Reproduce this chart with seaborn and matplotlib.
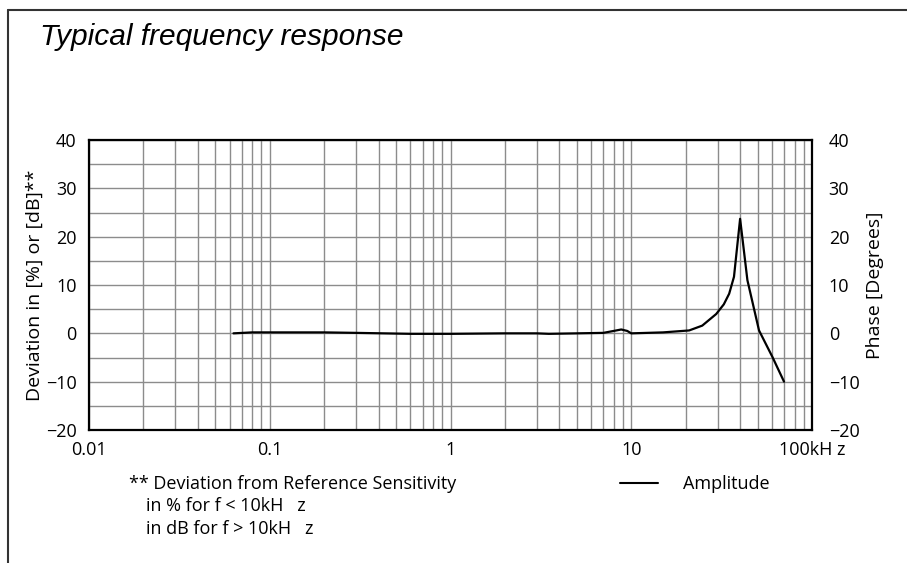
import pandas as pd
import numpy as np
import matplotlib
matplotlib.use("Agg")
import matplotlib.pyplot as plt
import seaborn as sns
from matplotlib.lines import Line2D
from matplotlib.ticker import LogLocator, FixedLocator, NullFormatter

# data (frequency in kHz, deviation)
freq_khz = [0.063, 0.08, 0.2, 0.3, 0.6, 1.0, 2.0, 3.0, 3.5, 5.0, 7.0, 8.0, 8.8, 9.5,
            10.0, 15.0, 20.9, 24.7, 29.5, 32.5, 34.8, 37.0, 40.0, 43.9, 50.9, 60.4, 70.0]
amplitude = [0.0, 0.2, 0.2, 0.1, -0.1, -0.1, 0.0, 0.0, -0.1, 0.0, 0.1, 0.5, 0.8, 0.5,
             0.0, 0.2, 0.6, 1.6, 4.0, 6.0, 8.2, 11.7, 23.7, 11.0, 0.6, -4.9, -10.0]

x_ticks = [0.01, 0.1, 1, 10, 100]
x_labels = ["0.01", "0.1", "1", "10", "100kH z"]
y_ticks = [-20, -10, 0, 10, 20, 30, 40]

df = pd.DataFrame({"f": freq_khz, "Amplitude": amplitude})

sns.set_style("white")
plt.rcParams["font.family"] = ["Open Sans", "DejaVu Sans"]
plt.rcParams["text.color"] = "black"
plt.rcParams["xtick.color"] = "black"
plt.rcParams["ytick.color"] = "black"
plt.rcParams["axes.labelcolor"] = "black"

fig = plt.figure(figsize=(9.07, 5.63), dpi=100)
ax = fig.add_axes([0.0981, 0.2362, 0.7972, 0.5151])

sns.lineplot(data=df, x="f", y="Amplitude", ax=ax, color="black", linewidth=1.6,
             legend=False)
ax.set_xscale("log")
ax.set_xlim(0.01, 100)
ax.set_ylim(-20, 40)

ax.xaxis.set_major_locator(FixedLocator(x_ticks))
ax.xaxis.set_minor_locator(LogLocator(base=10, subs=np.arange(2, 10)))
ax.xaxis.set_minor_formatter(NullFormatter())
ax.set_xticklabels(x_labels)
ax.yaxis.set_major_locator(FixedLocator(y_ticks))
ax.yaxis.set_minor_locator(FixedLocator(np.arange(-15, 40, 10)))

ax.grid(True, which="both", color="#8c8c8c", linewidth=1.0)
ax.tick_params(which="both", length=0, labelsize=13)
ax.tick_params(axis="x", pad=8)
ax.tick_params(axis="y", pad=9)
for s in ax.spines.values():
    s.set_color("black")
    s.set_linewidth(1.6)
ax.set_xlabel("")
ax.set_ylabel("Deviation in [%] or [dB]**", fontsize=14)
ax.yaxis.set_label_coords(-0.062, 0.5)

ax2 = ax.twinx()
ax2.set_ylim(-20, 40)
ax2.yaxis.set_major_locator(FixedLocator(y_ticks))
ax2.tick_params(length=0, labelsize=13, pad=12)
ax2.set_ylabel("Phase [Degrees]", fontsize=14)
ax2.yaxis.set_label_coords(1.075, 0.5)
for s in ax2.spines.values():
    s.set_visible(False)

fig.text(0.044, 0.920, "Typical frequency response", fontsize=21.5, style="italic",
         family=["Liberation Sans", "DejaVu Sans"], va="baseline")

fig.text(0.142, 0.131, "** Deviation from Reference Sensitivity", fontsize=13,
         va="baseline")
fig.text(0.161, 0.092, "in % for f < 10kH   z", fontsize=13, va="baseline")
fig.text(0.161, 0.052, "in dB for f > 10kH   z", fontsize=13, va="baseline")

fig.add_artist(Line2D([0.684, 0.726], [0.142, 0.142], color="black", linewidth=1.5))
fig.text(0.753, 0.131, "Amplitude", fontsize=13, va="baseline")

# outer frame
fig.add_artist(Line2D([0.009, 0.009], [0.0, 0.982], color="#333333", linewidth=1.5))
fig.add_artist(Line2D([0.009, 1.0], [0.982, 0.982], color="#333333", linewidth=1.5))

fig.savefig("out.png", dpi=100)
